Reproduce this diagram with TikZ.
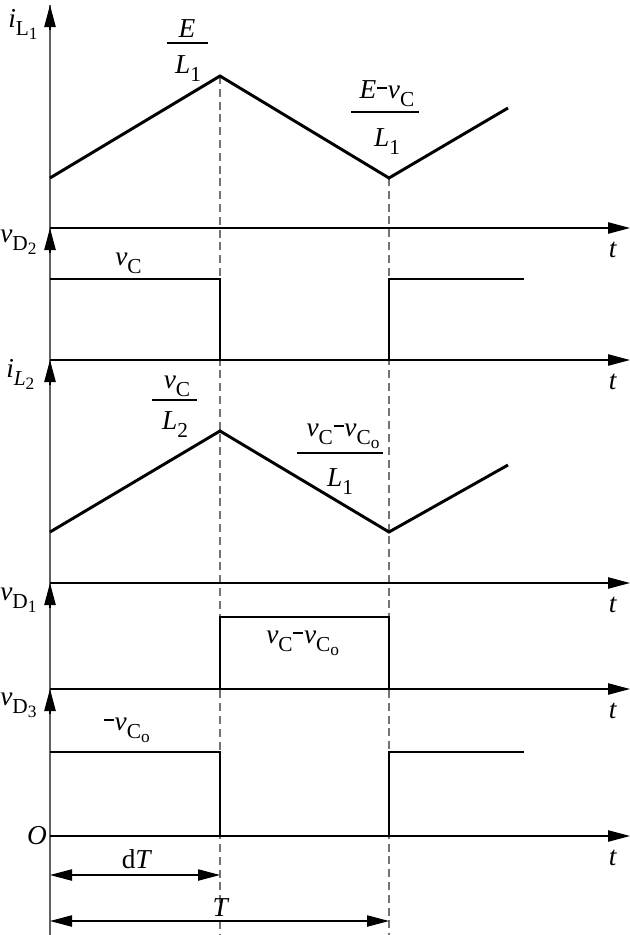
\documentclass[tikz,border=0pt]{standalone}
\usepackage{fontspec}
\setmainfont{Liberation Serif}
\usetikzlibrary{arrows.meta,calc}
\newcommand{\lb}{\fontsize{20.5}{23}\selectfont}
\newcommand{\sbx}[1]{\raisebox{-0.3em}{\fontsize{16}{18}\selectfont #1}}
\newcommand{\ssbx}[1]{\raisebox{-0.2em}{\fontsize{13}{15}\selectfont #1}}
\newcommand{\mi}[1]{\textit{#1}}
\newcommand{\mns}{\hspace{0.03em}\rule[0.33em]{0.36em}{0.065em}\hspace{0.03em}}
\begin{document}
\begin{tikzpicture}[x=0.75pt,y=-0.75pt,
  tip/.style={-{Triangle[length=16.5pt,width=8.5pt]}},
  wave/.style={line width=2.2pt,line join=miter},
  haxis/.style={line width=1pt,tip},
  vaxis/.style={draw=black!62,line width=1.05pt},
  vtip/.style={line width=1pt,tip},
  guide/.style={draw=black!55,line width=0.95pt,dash pattern=on 6pt off 3.6pt},
  dim/.style={line width=0.85pt,{Triangle[length=16.5pt,width=8.5pt]}-{Triangle[length=16.5pt,width=8.5pt]}},
  lab/.style={inner sep=0pt,font=\lb},
  fbar/.style={line width=1pt}]
\useasboundingbox (0,0) rectangle (630,935);

% axis origins and ends
\coordinate (vbot) at (50,935);
\coordinate (vtop) at (50,5);
\foreach \n/\y in {a1/228,a2/360,a3/583,a4/689,a5/836}{
  \coordinate (\n s) at (50,\y);
  \coordinate (\n e) at (630,\y);
}
% dashed guides
\coordinate (g1t) at (220,76);  \coordinate (g1b) at (220,935);
\coordinate (g2t) at (389,178); \coordinate (g2b) at (389,935);
\draw[guide] (g1t) -- (g1b);
\draw[guide] (g2t) -- (g2b);

% vertical axis
\draw[vaxis] (vbot) -- (vtop);
\draw[vtip] (50,30) -- (vtop);
\foreach \n in {a1,a2,a3,a4}{
  \draw[vtip] ($(\n s)+(0,25)$) -- (\n s);
}
% horizontal axes
\foreach \n in {a1,a2,a3,a4,a5}{
  \draw[haxis] (\n s) -- (\n e);
}

% waveforms
\draw[wave] (50,178) -- (220,76) -- (389,178) -- (508,108);
\draw[wave] (50,279) -- (220,279) -- (220,360) -- (389,360) -- (389,279) -- (524,279);
\draw[wave] (50,532) -- (220,431) -- (389,532) -- (508,465);
\draw[wave] (50,689) -- (220,689) -- (220,617) -- (389,617) -- (389,689) -- (541,689);
\draw[wave] (50,752) -- (220,752) -- (220,836) -- (389,836) -- (389,752) -- (524,752);

% axis labels
\node[lab,anchor=base west] (liL1) at (8,27) {\mi{i}\sbx{L\ssbx{1}}};
\node[lab,anchor=base west] (lvD2) at (0,242) {\mi{v}\sbx{D\ssbx{2}}};
\node[lab,anchor=base west] (liL2) at (6,377) {\mi{i}\sbx{\mi{L}\ssbx{2}}};
\node[lab,anchor=base west] (lvD1) at (0,600) {\mi{v}\sbx{D\ssbx{1}}};
\node[lab,anchor=base west] (lvD3) at (0,705) {\mi{v}\sbx{D\ssbx{3}}};
\node[lab] (lO) at (37,836) {\mi{O}};
\foreach \y [count=\i] in {257,389,612,718,865}{
  \node[lab,anchor=base] (lt\i) at (613,\y) {\mi{t}};
}

% slope labels (fractions)
\node[lab,anchor=base] (f1n) at (187,37) {\mi{E}};
\draw[fbar] (167,43) -- (208,43);
\node[lab,anchor=base] (f1d) at (188,73) {\mi{L}\sbx{1}};

\node[lab,anchor=base] (f2n) at (387,98) {\mi{E}\mns\mi{v}\sbx{C}};
\draw[fbar] (351,112) -- (419,112);
\node[lab,anchor=base] (f2d) at (387,146) {\mi{L}\sbx{1}};

\node[lab,anchor=base] (f3n) at (177,388) {\mi{v}\sbx{C}};
\draw[fbar] (152,400) -- (197,400);
\node[lab,anchor=base] (f3d) at (175,429) {\mi{L}\sbx{2}};

\node[lab,anchor=base] (f4n) at (343,436) {\mi{v}\sbx{C}\mns\mi{v}\sbx{C\ssbx{o}}};
\draw[fbar] (297,453) -- (383,453);
\node[lab,anchor=base] (f4d) at (340,486) {\mi{L}\sbx{1}};

% level labels
\node[lab,anchor=base west] (lvc) at (115,265) {\mi{v}\sbx{C}};
\node[lab,anchor=base west] (lvcvco) at (266,643) {\mi{v}\sbx{C}\mns\mi{v}\sbx{C\ssbx{o}}};
\node[lab,anchor=base west] (lmvco) at (103,730) {\mns\mi{v}\sbx{C\ssbx{o}}};

% dimension arrows
\coordinate (dTl) at (50,875);  \coordinate (dTr) at (220,875);
\coordinate (Tl) at (50,921);   \coordinate (Tr) at (389,921);
\draw[dim] (dTl) -- (dTr);
\draw[dim] (Tl) -- (Tr);
\node[lab,anchor=base] (ldT) at (137,868) {d\mi{T}};
\node[lab,anchor=base] (lT) at (221,916) {\mi{T}};
\end{tikzpicture}
\end{document}
